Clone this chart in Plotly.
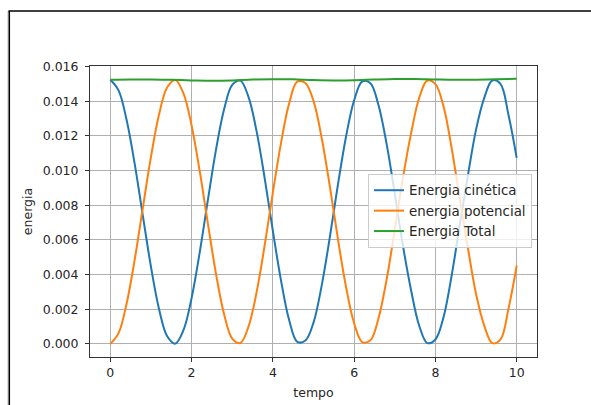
import plotly.graph_objects as go

tempo = [0.0, 0.2, 0.4, 0.6, 0.8, 1.0, 1.2, 1.4, 1.6, 1.8, 2.0, 2.2, 2.4, 2.6, 2.8, 3.0, 3.2, 3.4, 3.6, 3.8,
         4.0, 4.2, 4.4, 4.6, 4.8, 5.0, 5.2, 5.4, 5.6, 5.8, 6.0, 6.2, 6.4, 6.6, 6.8, 7.0, 7.2, 7.4, 7.6, 7.8,
         8.0, 8.2, 8.4, 8.6, 8.8, 9.0, 9.2, 9.4, 9.6, 9.8, 10.0]

energia_cinetica = [0.015250, 0.014648, 0.012937, 0.010388, 0.007402, 0.004452, 0.002002, 0.000441, 0.000013,
                    0.000787, 0.002641, 0.005282, 0.008292, 0.011197, 0.013539, 0.014946, 0.015198, 0.014254,
                    0.012264, 0.009541, 0.006516, 0.003665, 0.001378, 0.000117, 0.000192, 0.001227, 0.003349,
                    0.006123, 0.009173, 0.011958, 0.014059, 0.015145, 0.015043, 0.013770, 0.011527, 0.008668,
                    0.005680, 0.003112, 0.001058, 0.000044, 0.000253, 0.001543, 0.003947, 0.006883, 0.009724,
                    0.012368, 0.014183, 0.015206, 0.015009, 0.013202, 0.010737]

energia_potencial = [0.000000, 0.000602, 0.002313, 0.004862, 0.007848, 0.010798, 0.013248, 0.014809, 0.015237,
                     0.014463, 0.012609, 0.009968, 0.006958, 0.004053, 0.001711, 0.000304, 0.000052, 0.000996,
                     0.002986, 0.005709, 0.008734, 0.011585, 0.013872, 0.015133, 0.015058, 0.014023, 0.011901,
                     0.009127, 0.006077, 0.003292, 0.001191, 0.000105, 0.000207, 0.001480, 0.003723, 0.006582,
                     0.009570, 0.012138, 0.014192, 0.015206, 0.014997, 0.013707, 0.011303, 0.008367, 0.005526,
                     0.002882, 0.001067, 0.000044, 0.000241, 0.002048, 0.004513]

tempo_total = [0.0, 0.5, 1.0, 1.5, 2.0, 2.5, 3.0, 3.5, 4.0, 4.5, 5.0, 5.5, 6.0, 6.5, 7.0, 7.5, 8.0, 8.5, 9.0, 9.5, 10.0]
energia_total = [0.01524, 0.01526, 0.01526, 0.01524, 0.01521, 0.01519, 0.01521, 0.01526, 0.01528, 0.01527,
                 0.01523, 0.01521, 0.01522, 0.01526, 0.01529, 0.01529, 0.01526, 0.01524, 0.01525, 0.01528, 0.01530]

x_ticks = [0, 2, 4, 6, 8, 10]
y_ticks = [0.000, 0.002, 0.004, 0.006, 0.008, 0.010, 0.012, 0.014, 0.016]

fig = go.Figure()
fig.add_trace(go.Scatter(x=tempo, y=energia_cinetica, mode="lines", name="Energia cinética",
                         line=dict(color="#1f77b4", width=2, shape="spline")))
fig.add_trace(go.Scatter(x=tempo, y=energia_potencial, mode="lines", name="energia potencial",
                         line=dict(color="#ff7f0e", width=2, shape="spline")))
fig.add_trace(go.Scatter(x=tempo_total, y=energia_total, mode="lines", name="Energia Total",
                         line=dict(color="#2ca02c", width=2, shape="spline")))

font = dict(family="DejaVu Sans", size=12.5, color="#262626")
legend_font = dict(family="DejaVu Sans", size=13.4, color="#262626")
L, R, T, B = 90, 54, 66, 48
W, H = 591, 405
pw, ph = W - L - R, H - T - B

def px_x(p):
    return (p - L) / pw

def px_y(p):
    return (H - B - p) / ph

fig.update_layout(
    width=W, height=H,
    margin=dict(l=L, r=R, t=T, b=B, autoexpand=False),
    paper_bgcolor="white", plot_bgcolor="white",
    font=font,
    showlegend=True,
    legend=dict(x=px_x(532), xanchor="right", y=0.5017, yanchor="middle",
                bgcolor="rgba(255,255,255,0.8)", bordercolor="#cccccc", borderwidth=1,
                font=legend_font, tracegroupgap=0, itemwidth=30),
    xaxis=dict(range=[-0.5, 10.5], tickvals=x_ticks, ticktext=[str(v) for v in x_ticks],
               showgrid=True, gridcolor="#b0b0b0", gridwidth=0.8, zeroline=False,
               showline=True, linecolor="#333333", linewidth=1, mirror=True, automargin=False,
               ticks="outside", ticklen=4, tickcolor="#333333", ticklabelstandoff=0,
               title=dict(text="tempo", standoff=9, font=font)),
    yaxis=dict(range=[-0.00076, 0.01604], tickvals=y_ticks, ticktext=[f"{v:.3f}" for v in y_ticks],
               showgrid=True, gridcolor="#b0b0b0", gridwidth=0.8, zeroline=False,
               showline=True, linecolor="#333333", linewidth=1, mirror=True, automargin=False,
               ticks="outside", ticklen=4, tickcolor="#333333", ticklabelstandoff=4,
               title=dict(text="energia", standoff=7, font=font)),
    shapes=[
        dict(type="line", xref="paper", yref="paper", x0=px_x(8), x1=px_x(8), y0=px_y(11), y1=px_y(410),
             line=dict(color="#bbbbbb", width=1)),
        dict(type="line", xref="paper", yref="paper", x0=px_x(9.3), x1=px_x(9.3), y0=px_y(11), y1=px_y(410),
             line=dict(color="black", width=1.5)),
        dict(type="line", xref="paper", yref="paper", x0=px_x(8.5), x1=px_x(600), y0=px_y(11), y1=px_y(11),
             line=dict(color="black", width=1.5)),
    ],
)

fig.write_html("out.html")
